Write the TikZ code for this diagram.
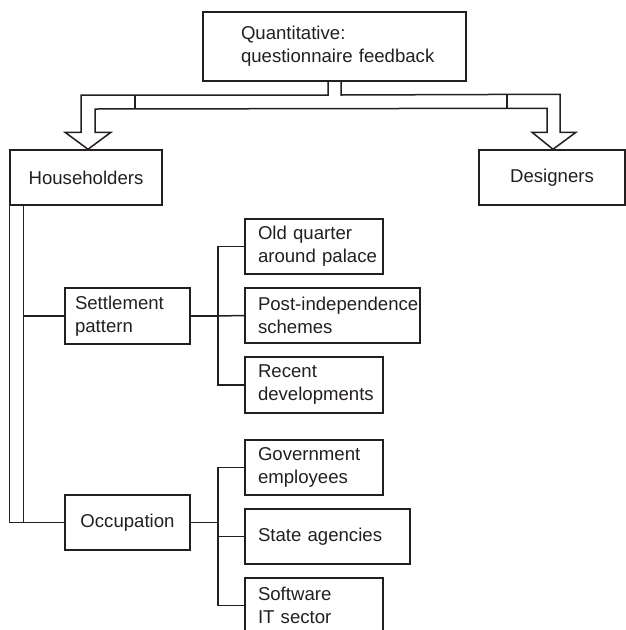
\documentclass[tikz,border=0pt]{standalone}
\usepackage{fontspec}
\setmainfont{Liberation Sans}
\usetikzlibrary{calc}
\definecolor{ink}{RGB}{35,31,32}
% one unbreakable text line inside a fixed-width box
\newcommand\tline[1]{\mbox{#1}}
\begin{document}
\begin{tikzpicture}[x=1pt,y=-1pt,
  box/.style={draw=ink,line width=1.5pt,inner sep=0pt,align=left,
    text=ink,font=\fontsize{18.6}{23}\selectfont},
  % left-aligned text with a fixed left padding inside a box of width #1
  padded/.style args={#1 pad #2}{minimum width=#1,text width=#1-2*#2},
  wire/.style={draw=ink,line width=1.5pt,line join=miter}]
\useasboundingbox (0,0) rectangle (626,630);

% boxes
\node[box,padded=263 pad 38,minimum height=69] (top) at (334.5,46.5) {\tline{Quantitative:}\\\tline{questionnaire feedback}};
\node[box,minimum width=152,minimum height=55,align=center] (hh) at (86,177.5) {Householders};
\node[box,minimum width=146,minimum height=55,align=center] (ds) at (552,177.5) {Designers};
\node[box,padded=125 pad 10,minimum height=56] (set) at (127.5,316) {\tline{Settlement}\\\tline{pattern}};
\node[box,minimum width=125,minimum height=55,align=center] (occ) at (127.5,522.5) {Occupation};
\node[box,padded=138 pad 13,minimum height=55] (old) at (314,246.5) {\tline{Old quarter}\\\tline{around palace}};
\node[box,padded=175 pad 13,minimum height=55] (post) at (332.5,315.5) {\tline{Post-independence}\\\tline{schemes}};
\node[box,padded=138 pad 13,minimum height=56] (rec) at (314,385) {\tline{Recent}\\\tline{developments}};
\node[box,padded=138 pad 13,minimum height=55] (gov) at (314,467.5) {\tline{Government}\\\tline{employees}};
\node[box,padded=165 pad 13,minimum height=55] (st) at (327.5,536.5) {\tline{State agencies}};
\node[box,padded=138 pad 13,minimum height=55] (sw) at (314,605.5) {\tline{Software}\\\tline{IT sector}};

% hollow split arrow from the top box to both groups
\coordinate (sL) at ($(top.south)+(-6.5,0)$);
\coordinate (sR) at ($(top.south)+(6.5,0)$);
\coordinate (tipL) at ($(hh.north)+(2,0)$);
\coordinate (tipR) at ($(ds.north)+(1,0)$);
\draw[wire] (tipL) -- ($(tipL)+(-23,-17)$) -- ($(tipL)+(-7,-17)$) -- (81,95)
  -- (sL |- 0,95) -- (sL);
\draw[wire] (sR) -- (sR |- 0,95) -- ($(tipR)+(7,-55)$) -- ($(tipR)+(7,-17)$)
  -- ($(tipR)+(23,-17)$) -- (tipR) -- ($(tipR)+(-21,-17)$) -- ($(tipR)+(-6,-17)$)
  -- ($(tipR)+(-6,-41)$) -- (95,109) -- ($(tipL)+(7,-17)$) -- ($(tipL)+(23,-17)$) -- (tipL);
\draw[wire] (135,95) -- (135,109);
\draw[wire] (507,95) -- (507,109);

% householder rails
\coordinate (rail) at ($(hh.south west)+(14,0)$);
\draw[wire] (hh.south west) |- (occ.west);
\draw[wire] (rail) -- (rail |- occ.west);
\draw[wire] (set.west) -- (set.west -| rail);

% settlement pattern branches
\draw[wire] (set.east) -- ++(27,0) coordinate (sj);
\draw[wire] (old.west) -| (sj) |- (rec.west);
\draw[wire] (sj) -- (post.west);

% occupation branches
\draw[wire] (occ.east) -- ++(27,0) coordinate (oj);
\draw[wire] (gov.west) -| (oj) |- (sw.west);
\draw[wire] (st.west) -- (st.west -| oj);
\end{tikzpicture}
\end{document}
